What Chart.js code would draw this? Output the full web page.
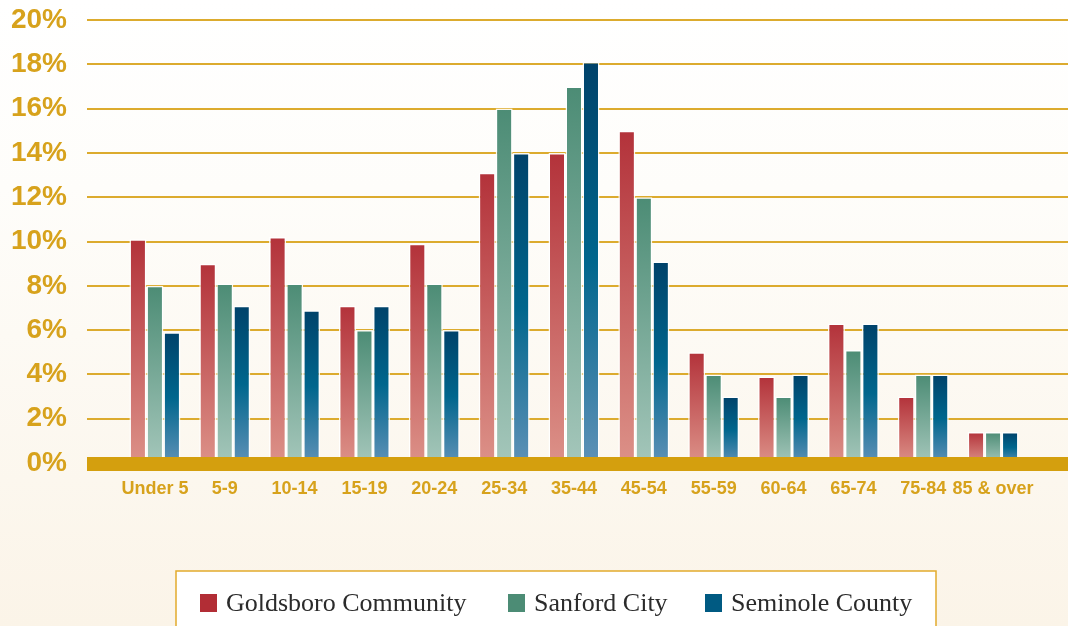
<!DOCTYPE html>
<html>
<head>
<meta charset="utf-8">
<title>Age distribution</title>
<script src="https://cdn.jsdelivr.net/npm/chart.js@4/dist/chart.umd.min.js"></script>
<style>
  html, body { margin: 0; padding: 0; }
  body {
    width: 1068px;
    height: 626px;
    overflow: hidden;
    background: linear-gradient(#ffffff 0%, #fefdfa 30%, #fbf4e8 100%);
  }
  #wrap { position: relative; width: 1068px; height: 626px; }
</style>
</head>
<body>
<div id="wrap"><canvas id="age-chart"></canvas></div>
<script>
/* ===================== DATA ===================== */

const ageGroups = [
  "Under 5", "5-9", "10-14", "15-19", "20-24", "25-34", "35-44",
  "45-54", "55-59", "60-64", "65-74", "75-84", "85 & over",
];

const goldsboro = [10.1, 9.0, 10.2, 7.1, 9.9, 13.1, 14.0, 15.0, 5.0, 3.9, 6.3, 3.0, 1.4];
const sanford   = [8.0, 8.1, 8.1, 6.0, 8.1, 16.0, 17.0, 12.0, 4.0, 3.0, 5.1, 4.0, 1.4];
const seminole  = [5.9, 7.1, 6.9, 7.1, 6.0, 14.0, 18.1, 9.1, 3.0, 4.0, 6.3, 4.0, 1.4];

const seriesNames = ["Goldsboro Community", "Sanford City", "Seminole County"];

const yMax = 20;
const yStep = 2;

/* ===================== STYLE ===================== */

const GOLD = "#d49f0e";
const GOLD_LINE = "#dcab2e";
const GOLD_TEXT = "#d7a21c";

const redStops   = [[0, "#b3323a"], [1, "#dc9188"]];
const greenStops = [[0, "#4c8c75"], [1, "#a4c6ba"]];
const blueStops  = [[0, "#00426a"], [0.5, "#00668d"], [1, "#5e91b7"]];

const legendSwatch = ["#b22d35", "#4c8c75", "#005a82"];

// gradient runs from the top of each bar down to zero
function barFill(stops) {
  return (ctx) => {
    const chart = ctx.chart;
    if (!chart.chartArea || ctx.raw == null) return stops[0][1];
    const y = chart.scales.y;
    const top = y.getPixelForValue(ctx.raw);
    const bottom = y.getPixelForValue(0);
    const g = chart.ctx.createLinearGradient(0, top, 0, bottom);
    stops.forEach(([o, c]) => g.addColorStop(o, c));
    return g;
  };
}

/* ===================== PLUGINS ===================== */

// horizontal grid lines wider than the category area
const gridPlugin = {
  id: "wideGrid",
  beforeDatasetsDraw(chart) {
    const { ctx, scales: { y } } = chart;
    ctx.save();
    ctx.strokeStyle = GOLD_LINE;
    ctx.lineWidth = 2;
    for (let v = yStep; v <= yMax; v += yStep) {
      const py = Math.round(y.getPixelForValue(v));
      ctx.beginPath();
      ctx.moveTo(87, py);
      ctx.lineTo(chart.width, py);
      ctx.stroke();
    }
    ctx.restore();
  },
  afterDatasetsDraw(chart) {
    // thick zero band over the bar bottoms
    const { ctx, scales: { y } } = chart;
    const py = y.getPixelForValue(0);
    ctx.save();
    ctx.fillStyle = GOLD;
    ctx.fillRect(87, py - 6, chart.width - 87, 14);
    ctx.restore();
  },
};

// framed legend at the bottom
const legendPlugin = {
  id: "framedLegend",
  afterDraw(chart) {
    const { ctx } = chart;
    ctx.save();
    ctx.fillStyle = "#ffffff";
    ctx.fillRect(176, 571, 760, 70);
    ctx.strokeStyle = "#e2aa2c";
    ctx.lineWidth = 1.5;
    ctx.strokeRect(176, 571, 760, 70);

    ctx.font = "26px 'Liberation Serif', serif";
    ctx.textBaseline = "alphabetic";
    const xs = [200, 508, 705];
    chart.data.datasets.forEach((ds, i) => {
      ctx.fillStyle = legendSwatch[i];
      ctx.fillRect(xs[i], 594, 17, 18);
      ctx.fillStyle = "#2b2b2b";
      ctx.fillText(ds.label, xs[i] + 26, 611);
    });
    ctx.restore();
  },
};

/* ===================== CHART ===================== */

const canvas = document.getElementById("age-chart");

const barBase = {
  borderColor: "rgba(255,255,255,0.9)",
  borderWidth: 1.5,
  borderSkipped: false,
  categoryPercentage: 0.73,
  barPercentage: 1,
};

new Chart(canvas, {
  type: "bar",
  data: {
    labels: ageGroups,
    datasets: [
      { ...barBase, label: seriesNames[0], data: goldsboro, backgroundColor: barFill(redStops) },
      { ...barBase, label: seriesNames[1], data: sanford, backgroundColor: barFill(greenStops) },
      { ...barBase, label: seriesNames[2], data: seminole, backgroundColor: barFill(blueStops) },
    ],
  },
  options: {
    responsive: true,
    maintainAspectRatio: false,
    animation: false,
    layout: { padding: { top: 20, right: 40, left: 0, bottom: 0 } },
    plugins: {
      legend: { display: false },
      tooltip: { enabled: false },
    },
    scales: {
      x: {
        grid: { display: false, drawTicks: false },
        border: { display: false },
        ticks: {
          color: GOLD_TEXT,
          font: { family: "'Liberation Sans', Arial, sans-serif", size: 18, weight: "bold" },
          padding: 15,
          maxRotation: 0,
          autoSkip: false,
        },
        afterFit: (scale) => {
          scale.height = 163;
          scale.paddingLeft = 0;
          scale.paddingRight = 0;
        },
      },
      y: {
        min: 0,
        max: yMax,
        grid: { display: false, drawTicks: false },
        border: { display: false },
        ticks: {
          stepSize: yStep,
          color: GOLD_TEXT,
          font: { family: "'Liberation Sans', Arial, sans-serif", size: 28, weight: "bold" },
          padding: 53,
          callback: (v) => `${v}%`,
        },
        afterFit: (scale) => {
          scale.width = 120;
          scale.paddingTop = 0;
          scale.paddingBottom = 0;
        },
      },
    },
  },
  plugins: [gridPlugin, legendPlugin],
});
</script>
</body>
</html>
